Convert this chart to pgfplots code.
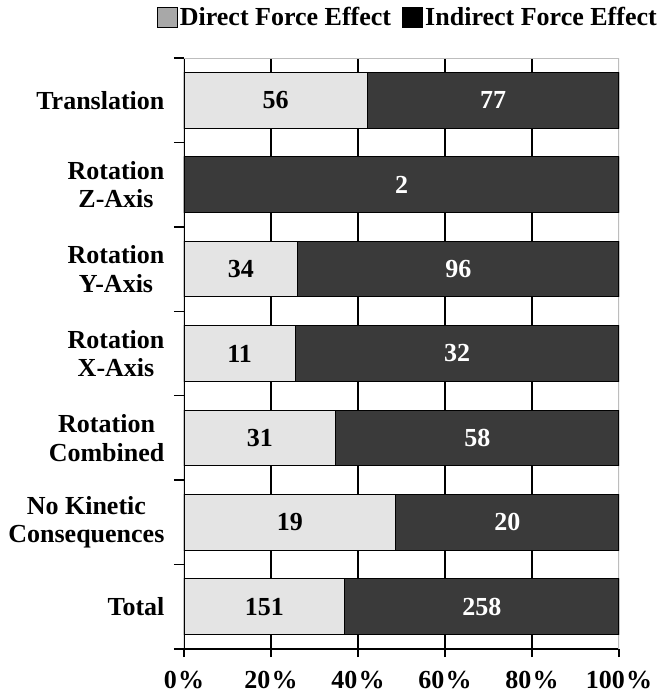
\documentclass[border=0pt]{standalone}
\usepackage{fontspec}
\setmainfont{Liberation Serif}
\usepackage{pgfplots}
\usepackage{pgfplotstable}
\pgfplotsset{compat=1.18}

\definecolor{directfill}{HTML}{E4E4E4}
\definecolor{indirectfill}{HTML}{3A3A3A}
\definecolor{directkey}{HTML}{A8A8A8}
\definecolor{framegray}{HTML}{BDBDBD}

% counts of cases per kinetic category
\pgfplotstableread{
row direct indirect
0 56 77
1 0 2
2 34 96
3 11 32
4 31 58
5 19 20
6 151 258
}\kinetic
\pgfplotstablecreatecol[create col/expr={100*\thisrow{direct}/(\thisrow{direct}+\thisrow{indirect})}]{pdirect}\kinetic
\pgfplotstablecreatecol[create col/expr={100*\thisrow{indirect}/(\thisrow{direct}+\thisrow{indirect})}]{pindirect}\kinetic

\newcommand\lblfont{\fontsize{19.5}{21.5}\selectfont\bfseries}
\def\zerocount{0}
% print a count, leaving empty segments unlabelled
\newcommand\countlabel{\ifx\pgfplotspointmeta\zerocount\else\pgfplotspointmeta\fi}

\begin{document}
\begin{tikzpicture}
\begin{axis}[
  scale only axis, width=326.25pt, height=443.25pt,
  xbar stacked, bar width=0.66,
  xmin=0, xmax=100, ymin=-0.5, ymax=6.5, y dir=reverse,
  axis line style={draw=none},
  xtick={0,20,...,100},
  xticklabels={0\kern1pt\%,20\kern1pt\%,40\kern1pt\%,60\kern1pt\%,80\kern1pt\%,100\kern1pt\%},
  xtick pos=bottom, ytick pos=left,
  tick align=outside,
  major tick length=6pt,
  every tick/.style={black, line width=1pt},
  ytick={0,...,6},
  yticklabels={Translation,{Rotation\\Z-Axis},{Rotation\\Y-Axis},{Rotation\\X-Axis},{Rotation\\Combined},{No Kinetic\\Consequences},Total},
  major y tick style={draw=none},
  minor ytick={-0.5,0.5,...,6.5},
  minor y tick style={black, line width=1pt},
  minor tick length=7.5pt,
  extra x ticks={20,40,60,80}, extra x tick labels={},
  extra x tick style={grid=major, major tick length=0pt},
  grid style={black, line width=0.9pt},
  yticklabel style={font=\lblfont, align=center, anchor=east, inner xsep=0pt, xshift=-8.5pt},
  xticklabel style={font=\lblfont, anchor=north, inner ysep=0pt, yshift=-10.5pt},
  legend style={at={(axis description cs:1.092,1.0694)}, anchor=east, draw=none, fill=none,
    font=\lblfont, inner sep=0pt, legend columns=2,
    /tikz/every even column/.append style={column sep=7pt},
    nodes={inner xsep=1.5pt}},
  legend cell align=left,
]
\addplot[fill=directfill, draw=black, line width=0.8pt,
  point meta=explicit symbolic,
  nodes near coords={\countlabel},
  nodes near coords style={font=\lblfont, text=black, anchor=center},
  legend image code/.code={\draw[black, fill=directkey, line width=0.6pt] (0pt,-7.5pt) rectangle (15pt,7.5pt);}
] table[x=pdirect, y=row, meta=direct] {\kinetic};
\addlegendentry{Direct Force Effect}
\addplot[fill=indirectfill, draw=black, line width=0.8pt,
  point meta=explicit symbolic,
  nodes near coords={\countlabel},
  nodes near coords style={font=\lblfont, text=white, anchor=center},
  legend image code/.code={\draw[black, fill=black, line width=0.6pt] (0pt,-7.5pt) rectangle (15pt,7.5pt);}
] table[x=pindirect, y=row, meta=indirect] {\kinetic};
\addlegendentry{Indirect Force Effect}
% frame: black left and bottom, light grey top and right
\draw[framegray, line width=1pt] (axis description cs:0,1) -- (axis description cs:1,1) -- (axis description cs:1,0);
\draw[black, line width=1.1pt] (axis description cs:0,1) -- (axis description cs:0,0) -- (axis description cs:1,0);
\coordinate (plotSW) at (axis description cs:0,0);
\end{axis}
\path (plotSW) ++(-138pt,-38.25pt) rectangle ++(495.75pt,525pt);
\end{tikzpicture}
\end{document}
